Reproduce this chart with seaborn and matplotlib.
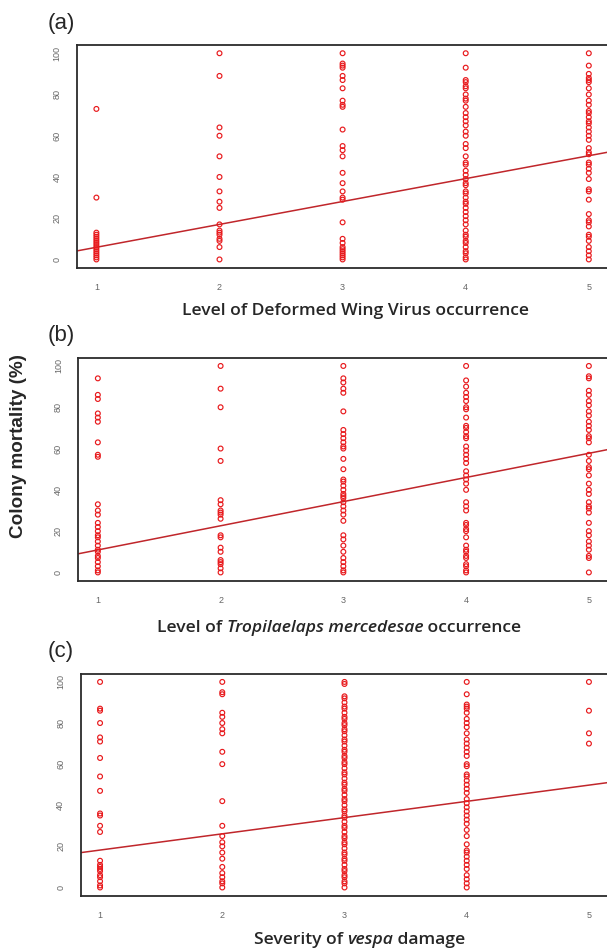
import numpy as np
import pandas as pd
import matplotlib
matplotlib.use("Agg")
import matplotlib.pyplot as plt
import seaborn as sns

# ---------------- data ----------------
levels = [1, 2, 3, 4, 5]

# (a) Deformed Wing Virus occurrence level vs colony mortality (%)
dwv_1 = [73, 30, 13, 12, 11, 10, 9, 8, 7, 6, 5, 4, 3, 2, 1, 0]
dwv_2 = [100, 89, 64, 60, 50, 40, 33, 28, 25, 17, 14, 13, 12, 10, 9, 6, 0]
dwv_3 = [100, 95, 94, 93, 89, 87, 83, 77, 75, 74, 63, 55, 53, 50, 42, 37, 33,
         30, 29, 18, 10, 8, 6, 5, 4, 3, 2, 1, 0]
dwv_4 = [100, 93, 87, 86, 84, 83, 80, 78, 77, 74, 71, 69, 67, 65, 62, 60, 56,
         54, 50, 47, 46, 43, 41, 39, 37, 36, 33, 32, 30, 28, 27, 25, 23, 21, 19,
         17, 14, 12, 11, 9, 8, 6, 4, 3, 1, 0]
dwv_5 = [100, 94, 90, 88, 87, 86, 83, 80, 77, 75, 72, 71, 69, 67, 66, 64, 62,
         60, 58, 54, 52, 51, 47, 46, 44, 42, 39, 34, 33, 29, 22, 19, 18, 16, 12,
         11, 9, 6, 4, 2, 0]

# (b) Tropilaelaps mercedesae occurrence level vs colony mortality (%)
tm_1 = [94, 86, 84, 77, 75, 73, 63, 57, 56, 33, 30, 28, 24, 22, 20, 18, 17, 15,
        13, 11, 10, 8, 7, 5, 3, 1, 0]
tm_2 = [100, 89, 80, 60, 54, 35, 33, 30, 29, 28, 26, 18, 17, 12, 10, 6, 5, 4, 2, 0]
tm_3 = [100, 94, 92, 89, 87, 78, 69, 67, 65, 63, 61, 60, 55, 50, 45, 44, 42, 40,
        38, 37, 36, 34, 32, 30, 28, 25, 18, 16, 13, 10, 7, 5, 3, 1, 0]
tm_4 = [100, 93, 90, 87, 85, 83, 80, 79, 75, 71, 70, 68, 66, 65, 61, 59, 57, 55,
        53, 49, 47, 45, 43, 40, 34, 32, 30, 24, 23, 21, 20, 17, 13, 11, 10, 8, 7,
        4, 3, 1, 0]
tm_5 = [100, 95, 94, 88, 86, 83, 81, 78, 76, 73, 71, 69, 66, 65, 63, 57, 54, 51,
        50, 47, 43, 40, 38, 34, 32, 31, 29, 24, 20, 18, 15, 13, 11, 8, 7, 0]

# (c) Severity of vespa damage vs colony mortality (%)
vd_1 = [100, 87, 86, 80, 73, 71, 63, 54, 47, 36, 35, 30, 27, 13, 11, 10, 9, 8,
        6, 5, 3, 1, 0]
vd_2 = [100, 95, 94, 85, 83, 80, 77, 75, 66, 60, 42, 30, 25, 22, 20, 17, 14, 10,
        7, 5, 3, 2, 0]
vd_3 = [100, 99, 93, 92, 90, 88, 87, 85, 83, 82, 80, 79, 77, 76, 74, 72, 71, 69,
        67, 66, 64, 63, 61, 60, 58, 56, 55, 53, 51, 50, 48, 47, 45, 43, 42, 40,
        38, 37, 35, 34, 32, 30, 29, 27, 25, 24, 22, 21, 19, 17, 16, 14, 13, 11,
        9, 8, 6, 5, 3, 2, 0]
vd_4 = [100, 94, 89, 88, 87, 85, 82, 80, 78, 75, 72, 70, 68, 66, 64, 60, 59, 55,
        54, 52, 50, 48, 46, 43, 41, 39, 37, 35, 33, 31, 28, 25, 21, 18, 17, 15,
        13, 11, 9, 6, 4, 2, 0]
vd_5 = [100, 86, 75, 70]

# fitted regression lines
line_intercepts = [-5.2, -0.8, 10.3]
line_slopes = [11.1, 11.7, 7.9]

panel_tags = ["(a)", "(b)", "(c)"]
y_ticks = [0, 20, 40, 60, 80, 100]
y_label = "Colony mortality (%)"

# x labels built from pieces (italic species names)
xlabel_parts = [
    [("Level of Deformed Wing Virus occurrence", False)],
    [("Level of ", False), ("Tropilaelaps mercedesae", True), (" occurrence", False)],
    [("Severity of ", False), ("vespa", True), (" damage", False)],
]

panels = [[dwv_1, dwv_2, dwv_3, dwv_4, dwv_5],
          [tm_1, tm_2, tm_3, tm_4, tm_5],
          [vd_1, vd_2, vd_3, vd_4, vd_5]]


def to_frame(cols):
    rows = []
    for lvl, vals in zip(levels, cols):
        for v in vals:
            rows.append((lvl, v))
    return pd.DataFrame(rows, columns=["level", "mortality"])


# ---------------- style ----------------
sns.set_style("white")
plt.rcParams["font.family"] = ["Liberation Sans", "DejaVu Sans"]

W, H = 607, 950
fig = plt.figure(figsize=(W / 100, H / 100), dpi=100)

# axes boxes in pixels: left, top, bottom, right
boxes = [(76.7, 45.0, 267.7, 608.5),
         (78.2, 357.7, 580.7, 608.5),
         (80.5, 673.7, 895.7, 608.5)]

pt_color = "#e8191c"
line_color = "#c0262b"
spine_color = "#2b2b2b"
tick_label_color = "#666666"

label_font = "Open Sans"
label_size = 12.6

for i, (l, t, b, r) in enumerate(boxes):
    ax = fig.add_axes([l / W, 1 - b / H, (r - l) / W, (b - t) / H])
    df = to_frame(panels[i])
    sns.scatterplot(data=df, x="level", y="mortality", ax=ax, marker="o",
                    s=12, fc="none", ec=pt_color, linewidth=0.85, legend=False,
                    zorder=3)
    ax.axline((0, line_intercepts[i]), slope=line_slopes[i], color=line_color,
              lw=1.1, zorder=2)
    ax.set_xlim(0.84, 5.16)
    ax.set_ylim(-4, 104)
    ax.set_xticks(levels)
    ax.set_yticks(y_ticks)
    ax.set_xlabel("")
    ax.set_ylabel("")
    for side in ["left", "top", "bottom"]:
        ax.spines[side].set_color(spine_color)
        ax.spines[side].set_linewidth(1.3)
    ax.spines["right"].set_visible(False)
    ax.tick_params(axis="both", direction="out", length=4, width=0.9,
                   color=spine_color, labelcolor=tick_label_color,
                   labelsize=6.5, pad=7)
    for lab in ax.get_yticklabels():
        lab.set_rotation(90)
        lab.set_va("center")
    ax.set_facecolor("white")

# panel tags
tag_y = [23, 335, 651]
for tag, y in zip(panel_tags, tag_y):
    fig.text(48 / W, 1 - y / H, tag, fontsize=16, ha="left", va="center",
             family=["Liberation Sans", "DejaVu Sans"])

# shared y label
fig.text(19 / W, 1 - 446 / H, y_label, rotation=90, fontsize=13.6,
         fontweight="bold", ha="center", va="center",
         family=["Liberation Sans", "DejaVu Sans"])

xlabel_left = [182, 157, 254]
xlabel_base = [319, 636, 948]

for parts, x0, yb in zip(xlabel_parts, xlabel_left, xlabel_base):
    prev = None
    for txt, italic in parts:
        style = "italic" if italic else "normal"
        if prev is None:
            prev = fig.text(x0 / W, 1 - yb / H, txt, fontsize=label_size,
                            fontweight="semibold", style=style, ha="left",
                            va="bottom", family=label_font)
        else:
            prev = fig.axes[0].annotate(
                txt, xy=(1, 0), xycoords=prev, xytext=(0, 0),
                textcoords="offset points", fontsize=label_size,
                fontweight="semibold", style=style, ha="left", va="bottom",
                family=label_font, annotation_clip=False)

fig.savefig("out.png", dpi=100, facecolor="white")
